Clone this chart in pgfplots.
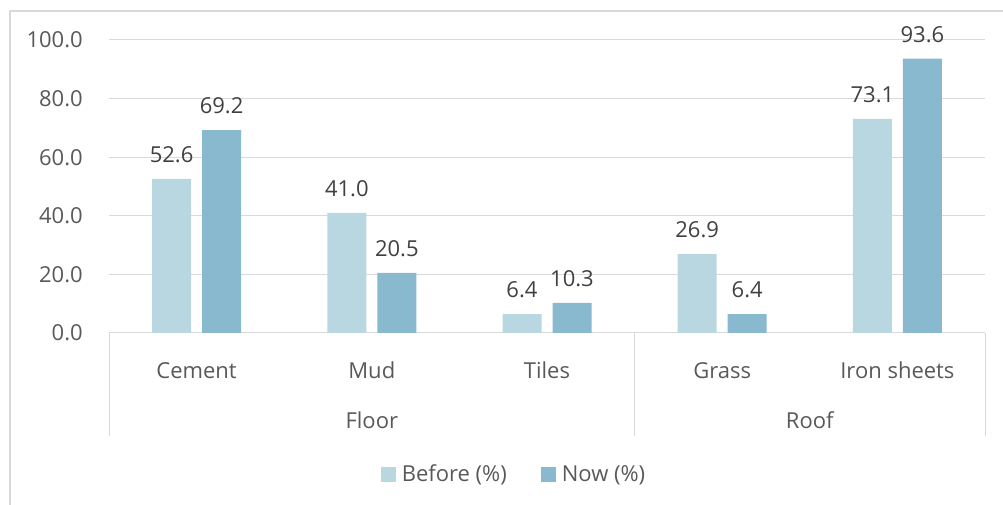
\documentclass[border=0pt]{standalone}
\usepackage{pgfplots}
\pgfplotsset{compat=1.18}
\usepackage{fontspec}
\setmainfont{Open Sans}

\definecolor{before}{HTML}{B8D7E1}
\definecolor{now}{HTML}{88B9CF}
\definecolor{gridgray}{HTML}{D9D9D9}
\definecolor{labelgray}{HTML}{595959}
\definecolor{valuegray}{HTML}{404040}
\newcommand{\chartfont}{\fontsize{16.5}{19.8}\selectfont}

\pgfplotsset{
  sqlegend/.style={legend image code/.code={\path[##1] (0pt,-5.6pt) rectangle (11.25pt,5.6pt);}},
}

\begin{document}
\begin{tikzpicture}[x=0.75pt,y=0.75pt]
\useasboundingbox (0,0) rectangle (1003,505);
% chart area frame
\draw[gridgray, line width=0.9pt] (10,-5) -- (10,494) -- (1010,494);
\begin{axis}[
  at={(81.75pt,129pt)}, anchor=south west,
  scale only axis, width=657pt, height=219.75pt,
  xmin=-0.5, xmax=4.5, ymin=0, ymax=100,
  ybar, bar width=0.2226,
  clip=false,
  xtick={0,...,4},
  xticklabels={Cement,Mud,Tiles,Grass,Iron sheets},
  ytick={0,20,...,100},
  ymajorgrids, grid style={gridgray, line width=0.75pt},
  axis line style={draw=none},
  major tick length=0pt,
  tick label style={font=\chartfont, text=labelgray},
  yticklabel style={anchor=east, inner sep=0pt, xshift=-19.5pt},
  xticklabel style={anchor=base, inner sep=0pt, yshift=-34.5pt},
  nodes near coords,
  every node near coord/.append style={font=\chartfont, text=valuegray, anchor=south, inner sep=0pt, yshift=12pt},
  legend columns=2,
  legend style={at={(0.4646,-0.482)}, anchor=center, draw=none, fill=none,
    font=\chartfont, text=labelgray,
    nodes={inner xsep=4pt},
    /tikz/every even column/.append style={column sep=22pt}},
  /pgf/number format/.cd, fixed, fixed zerofill, precision=1, assume math mode=true,
]
\addplot[fill=before, draw=none, bar shift=-0.1427, sqlegend]
  coordinates {(0,52.6) (1,41.0) (2,6.4) (3,26.9) (4,73.1)};
\addplot[fill=now, draw=none, bar shift=0.1427, sqlegend]
  coordinates {(0,69.2) (1,20.5) (2,10.3) (3,6.4) (4,93.6)};
\legend{Before (\%), Now (\%)}

% category group separators and group names
\draw[gridgray, line width=0.75pt] (axis cs:-0.5,0) -- ++(0pt,-77.25pt);
\draw[gridgray, line width=0.75pt] (axis cs:2.5,0) -- ++(0pt,-77.25pt);
\draw[gridgray, line width=0.75pt] (axis cs:4.5,0) -- ++(0pt,-77.25pt);
\node[font=\chartfont, text=labelgray, anchor=base, inner sep=0pt, yshift=-72pt] at (axis cs:1,0) {Floor};
\node[font=\chartfont, text=labelgray, anchor=base, inner sep=0pt, yshift=-72pt] at (axis cs:3.5,0) {Roof};
\end{axis}
\end{tikzpicture}
\end{document}
